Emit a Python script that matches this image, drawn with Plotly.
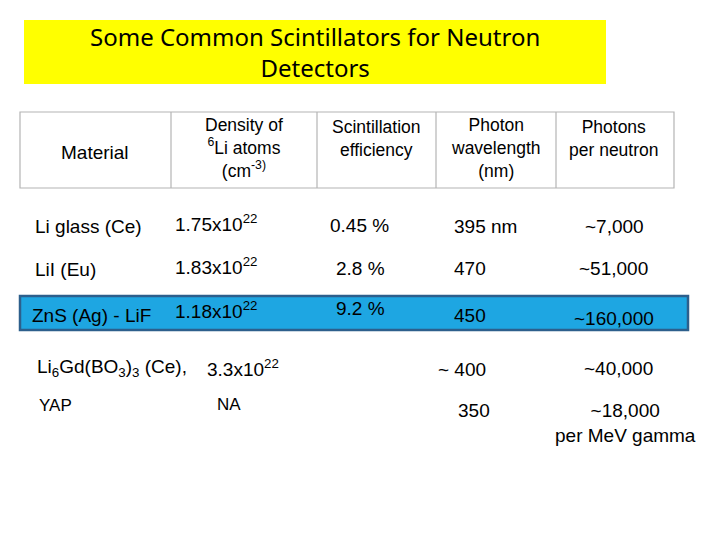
import plotly.graph_objects as go

title = "Some Common Scintillators for Neutron<br>Detectors"
headers = ["Material", "Density of<br><sup>6</sup>Li atoms<br>(cm<sup>-3)</sup>",
           "Scintillation<br>efficiency", "Photon<br>wavelength<br>(nm)", "Photons<br>per neutron"]
materials = ["Li glass (Ce)", "LiI (Eu)", "ZnS (Ag) - LiF",
             "Li<sub>6</sub>Gd(BO<sub>3</sub>)<sub>3</sub> (Ce),", "YAP"]
densities = ["1.75x10<sup>22</sup>", "1.83x10<sup>22</sup>", "1.18x10<sup>22</sup>",
             "3.3x10<sup>22</sup>", "NA"]
efficiencies = ["0.45 %", "2.8 %", "9.2 %", "", ""]
wavelengths = ["395 nm", "470", "450", "~ 400", "350"]
photons = ["~7,000", "~51,000", "~160,000", "~40,000", "~18,000<br>per MeV gamma"]

# layout positions (pixels in a 720x540 frame)
row_y = [[226, 223, 225, 226, 226],
         [269, 266, 268, 268, 268],
         [315, 310, 308, 315, 318],
         [368, 368, 0, 369, 368],
         [405, 404, 0, 410, 423]]
col_x = [[33, 173, 328, 452, 614],
         [33, 173, 334, 452, 613],
         [30, 173, 334, 452, 614],
         [35, 205, 0, 436, 618],
         [37, 215, 0, 456, 625]]
header_x = [95, 244, 376, 496, 614]
header_y = [152, 148, 138, 148, 138]
dividers = [171, 317, 436, 556]

font = "Liberation Sans, Arial, sans-serif"
fig = go.Figure()
fig.add_trace(go.Scatter(x=[0], y=[0], mode="markers", marker=dict(opacity=0), hoverinfo="skip"))

shapes = [
    dict(type="rect", x0=24, x1=606, y0=20, y1=84, fillcolor="#ffff00", line=dict(width=0), layer="below"),
    dict(type="rect", x0=20, x1=674, y0=112, y1=188, line=dict(color="#b4b4b4", width=1.2), layer="below"),
    dict(type="rect", x0=20, x1=688, y0=296, y1=330, fillcolor="#1ea6e2",
         line=dict(color="#2d5f8c", width=2.5), layer="below"),
]
for d in dividers:
    shapes.append(dict(type="line", x0=d, x1=d, y0=112, y1=188, line=dict(color="#b4b4b4", width=1.2), layer="below"))

ann = [dict(x=315, y=52, text=title, showarrow=False, font=dict(family="Noto Sans, sans-serif", size=24, color="black"))]
for j, (h, x, y) in enumerate(zip(headers, header_x, header_y)):
    ann.append(dict(x=x, y=y, text=h, showarrow=False,
                    font=dict(family=font, size=19 if j == 0 else 17.5, color="black")))

rows = list(zip(materials, densities, efficiencies, wavelengths, photons))
for i, row in enumerate(rows):
    for j, txt in enumerate(row):
        if not txt:
            continue
        size = 17 if (i == 4 and j < 2) else 19
        ann.append(dict(x=col_x[i][j], y=row_y[i][j], text=txt, showarrow=False,
                        xanchor="center" if j == 4 else "left",
                        font=dict(family=font, size=size, color="black")))

# page body adds an 8px offset, shift ranges to compensate
fig.update_layout(
    width=720, height=540, margin=dict(l=0, r=0, t=0, b=0),
    paper_bgcolor="white", plot_bgcolor="white", showlegend=False,
    xaxis=dict(range=[8, 728], visible=False, fixedrange=True),
    yaxis=dict(range=[548, 8], visible=False, fixedrange=True),
    shapes=shapes, annotations=ann,
)
fig.write_html("out.html")
